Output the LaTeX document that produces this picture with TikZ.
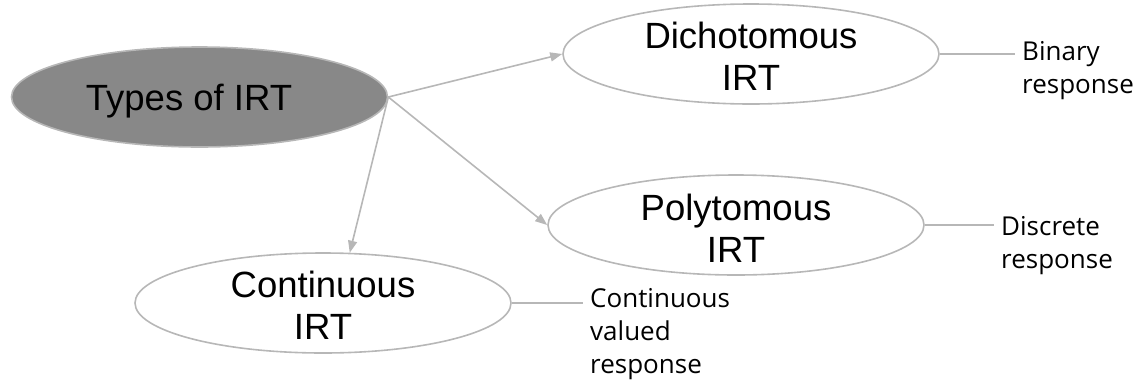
\documentclass[tikz,border=0pt]{standalone}
\usepackage{fontspec}
\setmainfont{Liberation Sans}
\newfontfamily\labelfont{Open Sans}
\usetikzlibrary{shapes.geometric,arrows.meta}
\definecolor{edgegray}{HTML}{B7B7B7}
\definecolor{rootfill}{HTML}{888888}
\begin{document}
\begin{tikzpicture}[x=1pt,y=-1pt,
  ell/.style={ellipse, draw=edgegray, line width=1.6pt, minimum width=376pt, minimum height=100pt, inner sep=0pt},
  main/.style={font=\fontsize{36.5}{42}\selectfont, align=center, inner sep=0pt},
  side/.style={font=\labelfont\fontsize{26}{33}\selectfont, align=left, inner xsep=7pt, inner ysep=0pt, anchor=north west},
  arr/.style={draw=edgegray, line width=1.6pt, -{Triangle[length=12pt,width=9pt]}},
  link/.style={draw=edgegray, line width=1.6pt}]
\useasboundingbox (0,0) rectangle (1141,381);
\node[ell, fill=rootfill] (types) at (199.5,97) {};
\node[main, anchor=base] (typestext) at (189,110) {Types of IRT};
\node[ell] (dich) at (751,54) {};
\node[main] (dichtext) at (751,56) {Dichotomous\\IRT};
\node[ell] (poly) at (736,225) {};
\node[main] (polytext) at (736,228) {Polytomous\\IRT};
\node[ell] (cont) at (323,303) {};
\node[main] (conttext) at (323,305) {Continuous\\IRT};
\node[side] (binary) at (1015,41) {Binary\\response};
\node[side] (discrete) at (994,216) {Discrete\\response};
\node[side] (contval) at (583,288) {Continuous\\valued\\response};
\draw[link] (dich.east) -- (dich.east -| binary.west);
\draw[link] (poly.east) -- (poly.east -| discrete.west);
\draw[link] (cont.east) -- (cont.east -| contval.west);
\draw[arr] (types.east) -- (dich.west);
\draw[arr] (types.east) -- (poly.west);
\draw[arr] (types.east) -- (cont.62);
\end{tikzpicture}
\end{document}
